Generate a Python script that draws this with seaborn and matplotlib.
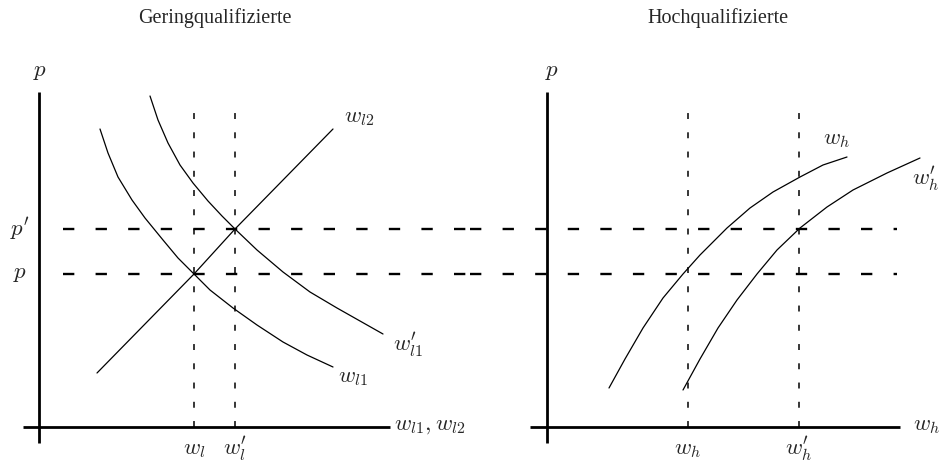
import matplotlib
matplotlib.use("Agg")
import matplotlib.pyplot as plt
import seaborn as sns

# price levels p, p'
p_levels = [15.3, 19.8]
p_labels = [r"$p$", r"$p^{\prime}$"]

# low-skilled panel
wl_levels = [15.5, 19.6]
wl_labels = [r"$w_l$", r"$w_l^{\prime}$"]
wl1_x = [6.1, 6.9, 7.9, 9.3, 10.6, 12.4, 13.9, 15.5, 17.1, 19.4, 21.8, 24.4, 26.8, 29.4]
wl1_y = [29.8, 27.4, 25.0, 22.7, 20.9, 18.7, 16.9, 15.3, 13.7, 11.9, 10.2, 8.5, 7.2, 6.0]
wl1p_x = [11.1, 11.9, 12.9, 14.1, 15.4, 16.9, 18.3, 19.6, 21.8, 24.4, 27.1, 29.8, 32.1, 34.4]
wl1p_y = [33.1, 30.7, 28.4, 26.2, 24.4, 22.6, 21.1, 19.8, 17.7, 15.5, 13.5, 11.9, 10.6, 9.3]
wl2_x = [5.8, 15.5, 19.6, 29.4]
wl2_y = [5.4, 15.3, 19.8, 29.8]

# high-skilled panel
wh_levels = [14.1, 25.2]
wh_labels = [r"$w_h$", r"$w_h^{\prime}$"]
wh_x = [6.2, 7.8, 9.6, 11.6, 13.6, 15.3, 18.0, 20.3, 22.6, 25.3, 27.6, 30.0]
wh_y = [3.9, 6.8, 9.9, 12.9, 15.3, 17.2, 19.9, 21.9, 23.5, 25.0, 26.2, 27.0]
whp_x = [13.6, 15.3, 17.1, 19.0, 21.0, 23.0, 25.3, 28.0, 30.6, 34.0, 37.3]
whp_y = [3.7, 6.8, 9.9, 12.7, 15.3, 17.7, 19.9, 22.0, 23.7, 25.4, 26.9]

sns.set_theme(style="white")
plt.rcParams["font.family"] = ["Liberation Serif", "DejaVu Serif"]
plt.rcParams["mathtext.fontset"] = "cm"

fig = plt.figure(figsize=(9.41, 4.63), dpi=100)
ax_l = fig.add_axes([0, 0, 470 / 941, 1])
ax_r = fig.add_axes([470 / 941, 0, 471 / 941, 1])
ax_l.set_xlim(-3.9, 43.1)
ax_r.set_xlim(-7.7, 39.4)
for ax in (ax_l, ax_r):
    ax.set_ylim(-3.6, 42.7)

hdash = (0, (4.8, 9.0))
vdash = (0, (3.9, 8.7))
fs = 16.5

## Geringqualifizierte
ax = ax_l
ax.plot([0, 0], [-1.6, 33.5], color="black", lw=2.0, solid_capstyle="butt")
ax.plot([-1.6, 35.1], [0, 0], color="black", lw=2.0, solid_capstyle="butt")
for lvl, lab in zip(p_levels, p_labels):
    ax.plot([2.4, 43.1], [lvl, lvl], color="black", lw=1.7, linestyle=hdash)
    ax.text(-1.9, lvl, lab, fontsize=fs, ha="center", va="center")
for lvl, lab in zip(wl_levels, wl_labels):
    ax.plot([lvl, lvl], [0, 32.7], color="black", lw=1.1, linestyle=vdash)
    ax.text(lvl, -2.2, lab, fontsize=fs, ha="center", va="center")

sns.lineplot(x=wl1_x, y=wl1_y, ax=ax, color="black", lw=0.9, sort=False)
sns.lineplot(x=wl1p_x, y=wl1p_y, ax=ax, color="black", lw=0.9, sort=False)
sns.lineplot(x=wl2_x, y=wl2_y, ax=ax, color="black", lw=0.9, sort=False)

ax.text(0.1, 35.5, r"$p$", fontsize=fs, ha="center", va="center")
ax.text(32.0, 31.0, r"$w_{l2}$", fontsize=fs, ha="center", va="center")
ax.text(36.9, 8.2, r"$w_{l1}^{\prime}$", fontsize=fs, ha="center", va="center")
ax.text(31.4, 4.9, r"$w_{l1}$", fontsize=fs, ha="center", va="center")
ax.text(35.5, 0.1, r"$w_{l1},w_{l2}$", fontsize=fs, ha="left", va="center")

## Hochqualifizierte
ax = ax_r
ax.plot([0, 0], [-1.6, 33.5], color="black", lw=2.0, solid_capstyle="butt")
ax.plot([-1.7, 35.3], [0, 0], color="black", lw=2.0, solid_capstyle="butt")
for lvl in p_levels:
    ax.plot([-7.7, 35.0], [lvl, lvl], color="black", lw=1.7, linestyle=hdash)
for lvl, lab in zip(wh_levels, wh_labels):
    ax.plot([lvl, lvl], [0, 32.7], color="black", lw=1.1, linestyle=vdash)
    ax.text(lvl, -2.2, lab, fontsize=fs, ha="center", va="center")

sns.lineplot(x=wh_x, y=wh_y, ax=ax, color="black", lw=0.9, sort=False)
sns.lineplot(x=whp_x, y=whp_y, ax=ax, color="black", lw=0.9, sort=False)

ax.text(0.5, 35.5, r"$p$", fontsize=fs, ha="center", va="center")
ax.text(29.0, 28.7, r"$w_h$", fontsize=fs, ha="center", va="center")
ax.text(37.9, 24.8, r"$w_h^{\prime}$", fontsize=fs, ha="center", va="center")
ax.text(36.6, 0.1, r"$w_h$", fontsize=fs, ha="left", va="center")

for ax in (ax_l, ax_r):
    ax.set_axis_off()

fig.text(215 / 941, 1 - 18 / 463, "Geringqualifizierte", fontsize=14.5, ha="center", va="center")
fig.text(718 / 941, 1 - 18 / 463, "Hochqualifizierte", fontsize=14.5, ha="center", va="center")

fig.savefig("out.png", dpi=100)
